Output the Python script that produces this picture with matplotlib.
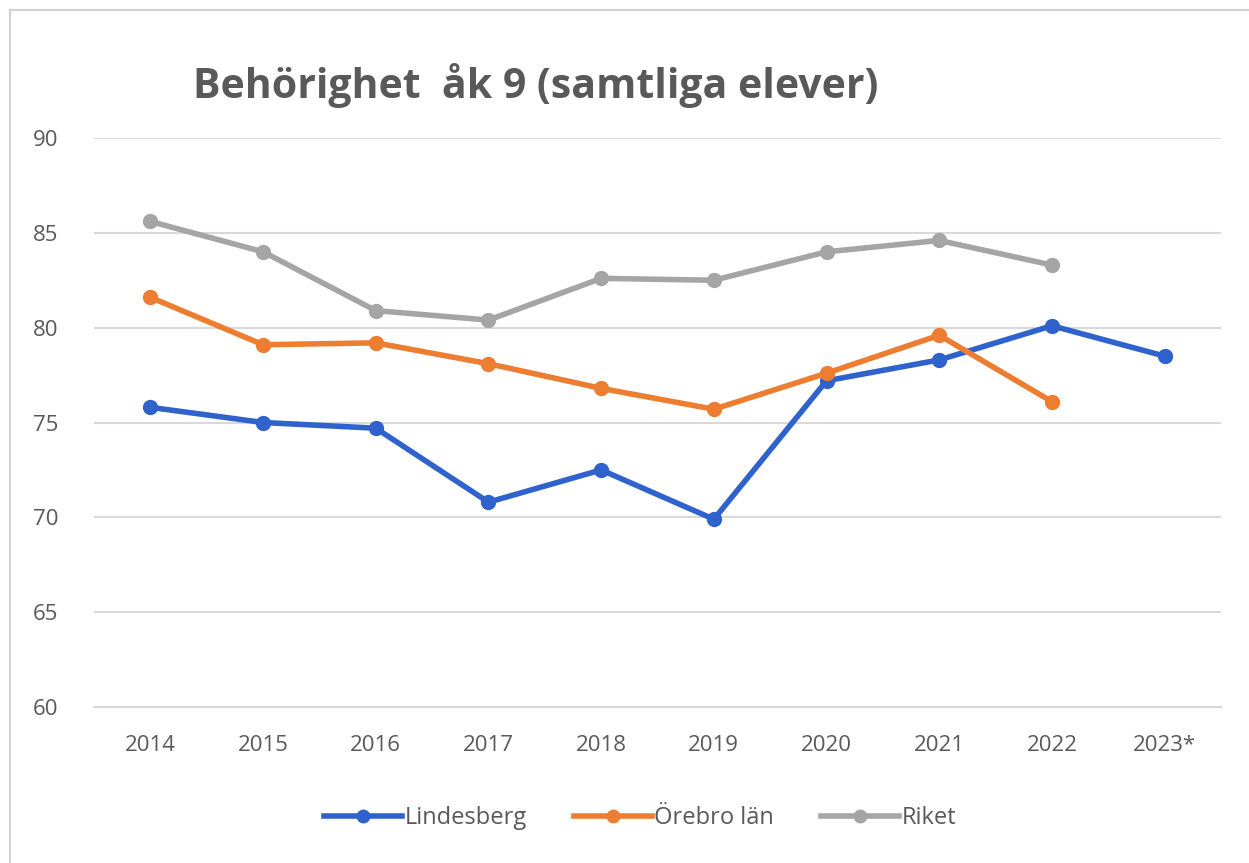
import matplotlib
matplotlib.use("Agg")
import matplotlib.pyplot as plt
from matplotlib.lines import Line2D

years = ["2014", "2015", "2016", "2017", "2018", "2019", "2020", "2021", "2022", "2023*"]
lindesberg = [75.8, 75.0, 74.7, 70.8, 72.5, 69.9, 77.2, 78.3, 80.1, 78.5]
orebro_lan = [81.6, 79.1, 79.2, 78.1, 76.8, 75.7, 77.6, 79.6, 76.1, None]
riket = [85.6, 84.0, 80.9, 80.4, 82.6, 82.5, 84.0, 84.6, 83.3, None]

series_names = ["Lindesberg", "Örebro län", "Riket"]
colors = ["#2F62CC", "#ED7D31", "#A5A5A5"]
yticks = [60, 65, 70, 75, 80, 85, 90]

plt.rcParams['font.family'] = ['Open Sans', 'DejaVu Sans']

fig = plt.figure(figsize=(12.49, 8.63), dpi=100)
ax = fig.add_axes([94/1249, 1-707/863, (1221-94)/1249, (707-138)/863])

x = list(range(len(years)))
for name, vals, c in zip(series_names, [lindesberg, orebro_lan, riket], colors):
    xs = [xi for xi, v in zip(x, vals) if v is not None]
    ys = [v for v in vals if v is not None]
    ax.plot(xs, ys, color=c, lw=4, marker='o', ms=10, label=name, zorder=3,
            solid_capstyle='round', solid_joinstyle='round')

ax.set_xlim(-0.5, len(years) - 0.5)
ax.set_ylim(60, 90)
ax.set_yticks(yticks)
ax.set_xticks(x)
ax.set_xticklabels(years)
ax.grid(axis='y', color='#D9D9D9', lw=1.5)
ax.set_axisbelow(True)
for s in ['top', 'right', 'left']:
    ax.spines[s].set_visible(False)
ax.spines['bottom'].set_color('#D9D9D9')
ax.spines['bottom'].set_linewidth(1.5)
ax.tick_params(axis='both', length=0, labelsize=16, labelcolor='#595959')
ax.tick_params(axis='x', pad=20)
ax.tick_params(axis='y', pad=44)
for lab in ax.get_yticklabels():
    lab.set_horizontalalignment('left')

fig.text(193/1249, 1-85/863, "Behörighet  åk 9 (samtliga elever)", fontsize=29.5,
         fontweight='bold', color='#595959', ha='left', va='center')

handles = [Line2D([0], [0], color=c, lw=4, marker='o', ms=9) for c in colors]
fig.legend(handles, series_names, loc='center', bbox_to_anchor=(640/1249, 1-818/863),
           ncol=3, frameon=False, fontsize=17, labelcolor='#595959',
           handlelength=3.3, handletextpad=0.1, columnspacing=2.0)

# outer border
fig.add_artist(Line2D([10/1249, 10/1249], [0, 1-10/863], color='#D0D0D0', lw=1.5,
                      transform=fig.transFigure))
fig.add_artist(Line2D([10/1249, 1], [1-10/863, 1-10/863], color='#D0D0D0', lw=1.5,
                      transform=fig.transFigure))

fig.savefig("out.png", dpi=100)
